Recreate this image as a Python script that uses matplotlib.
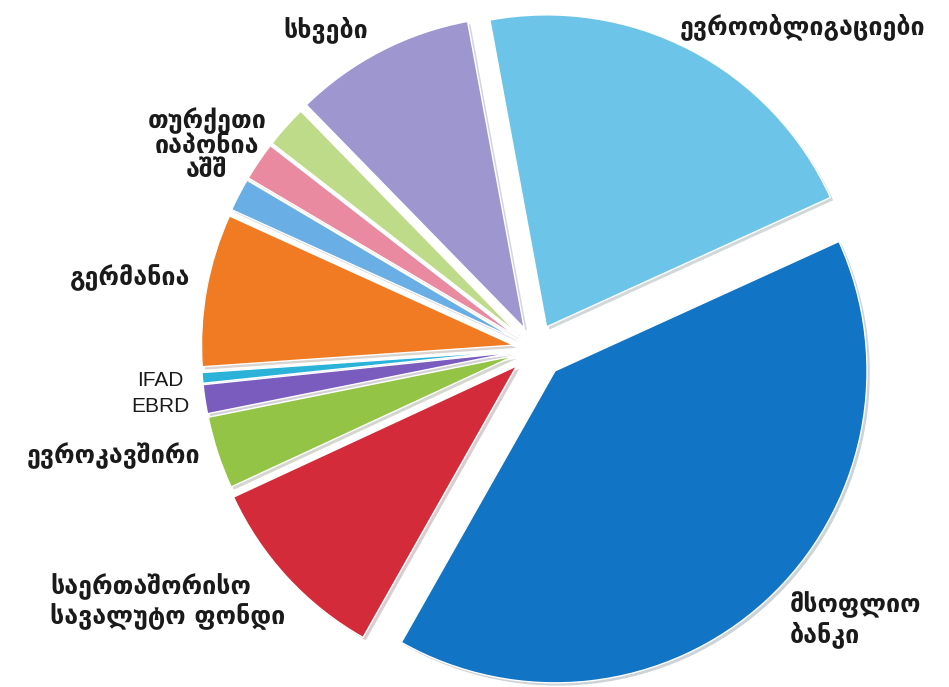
import numpy as np
import matplotlib
matplotlib.use("Agg")
import matplotlib.pyplot as plt
import matplotlib.patheffects as pe

# donor shares (%), counter-clockwise from World Bank
labels = ["მსოფლიო\nბანკი", "ევროობლიგაციები", "სხვები", "თურქეთი", "იაპონია",
          "აშშ", "გერმანია", "IFAD", "EBRD", "ევროკავშირი",
          "საერთაშორისო\nსავალუტო ფონდი"]
shares = [40.0, 21.1, 9.4, 2.2, 2.0, 1.7, 7.9, 0.55, 1.5, 3.75, 9.9]
colors = ["#1174c4", "#6cc4e8", "#9d96cf", "#bddb88", "#e98aa1",
          "#6aaee6", "#f07b23", "#2ab2d8", "#7a5cbf", "#93c445", "#d42b3b"]
explode = [0.095, 0.08, 0.075, 0.07, 0.07, 0.07, 0.07, 0.07, 0.07, 0.07, 0.08]

W, H = 949, 687
fig = plt.figure(figsize=(W / 100, H / 100), dpi=100)
ax = fig.add_axes([0, 0, 1, 1])

cx, cy = 535, H - 349
R = 312
wedges, _ = ax.pie(shares, colors=colors, explode=[e * R for e in explode],
                   startangle=240.5, counterclock=True, center=(cx, cy),
                   radius=R, frame=True,
                   wedgeprops=dict(edgecolor="white", linewidth=1))
for w in wedges:
    w.set_path_effects([pe.SimplePatchShadow(offset=(2, -2), alpha=0.2),
                        pe.Normal()])
ax.set_xlim(0, W)
ax.set_ylim(0, H)
ax.set_aspect("equal")
ax.axis("off")

geo = dict(family="DejaVu Sans", fontsize=18, fontweight="bold", color="#1a1a1a")
lat = dict(family="Liberation Sans", fontsize=15, color="#1a1a1a")
# label placement in pixel coordinates (y from top)
ax.text(283, H - 30, labels[2], ha="left", va="center", **geo)
ax.text(925, H - 27, labels[1], ha="right", va="center", **geo)
ax.text(207, H - 145, "\n".join(labels[3:6]), ha="center", va="center",
        linespacing=1.0, **geo)
ax.text(190, H - 278, labels[6], ha="right", va="center", **geo)
ax.text(184, H - 381, labels[7], ha="right", va="center", **lat)
ax.text(190, H - 407, labels[8], ha="right", va="center", **lat)
ax.text(200, H - 456, labels[9], ha="right", va="center", **geo)
ax.text(50, H - 602, labels[10], ha="left", va="center",
        linespacing=1.15, **geo)
ax.text(790, H - 620, labels[0], ha="left", va="center",
        linespacing=1.15, **geo)

fig.savefig("out.png", dpi=100, facecolor="white")
